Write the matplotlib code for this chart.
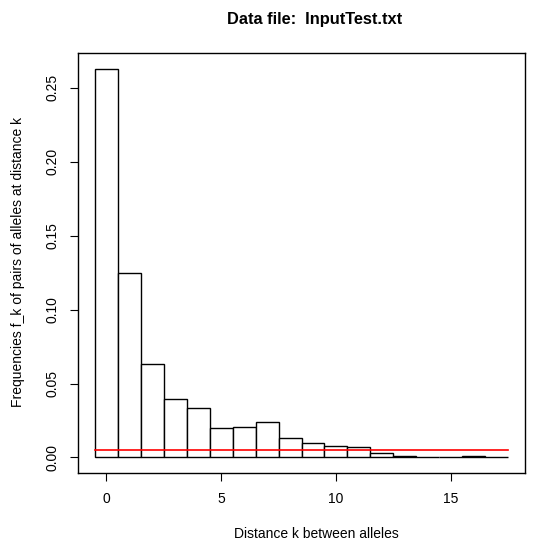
import numpy as np
import matplotlib
matplotlib.use("Agg")
import matplotlib.pyplot as plt

# distances k and observed frequencies f_k
distances = np.arange(0, 18)
freqs = [0.2630, 0.1245, 0.0630, 0.0398, 0.0333, 0.0200, 0.0208, 0.0239,
         0.0133, 0.0095, 0.0077, 0.0070, 0.0032, 0.0009, 0.0, 0.0, 0.0009, 0.0]
ref_level = 0.005
xticks = [0, 5, 10, 15]
yticks = [0.00, 0.05, 0.10, 0.15, 0.20, 0.25]

plt.rcParams['font.family'] = ['Liberation Sans', 'DejaVu Sans']

W, H = 547, 541
fig = plt.figure(figsize=(W / 100, H / 100), dpi=100)
ax = fig.add_axes([78 / W, 1 - 473 / H, (525 - 78) / W, (473 - 53) / H])

ax.bar(distances, freqs, width=1.0, facecolor='white', edgecolor='black', linewidth=1.0)
ax.plot([distances[0] - 0.5, distances[-1] + 0.5], [ref_level, ref_level], color='red', linewidth=1.2)

# R-style 4% padding around the data range
xlo, xhi = distances[0] - 0.5, distances[-1] + 0.5
dx = (xhi - xlo) * 0.04
ax.set_xlim(xlo - dx, xhi + dx)
ylo, yhi = 0, max(freqs)
dy = (yhi - ylo) * 0.04
ax.set_ylim(ylo - dy, yhi + dy)

ax.set_xticks(xticks)
ax.set_xticklabels([str(t) for t in xticks])
ax.set_yticks(yticks)
ax.set_yticklabels(['%.2f' % t for t in yticks], rotation=90, va='center')
ax.tick_params(direction='out', length=6, width=0.8, labelsize=10)
ax.tick_params(axis='x', pad=8)
ax.tick_params(axis='y', pad=7)
for s in ax.spines.values():
    s.set_linewidth(1.0)

fig.text(315 / W, 1 - 24 / H, 'Data file:  InputTest.txt', ha='center', va='baseline',
         fontsize=11.8, fontweight='bold')
fig.text(316 / W, 1 - 538 / H, 'Distance k between alleles', ha='center', va='baseline', fontsize=10)
fig.text(18 / W, 1 - 262 / H, 'Frequencies f_k of pairs of alleles at distance k',
         ha='center', va='center', rotation=90, fontsize=10)

fig.savefig('out.png', dpi=100)
